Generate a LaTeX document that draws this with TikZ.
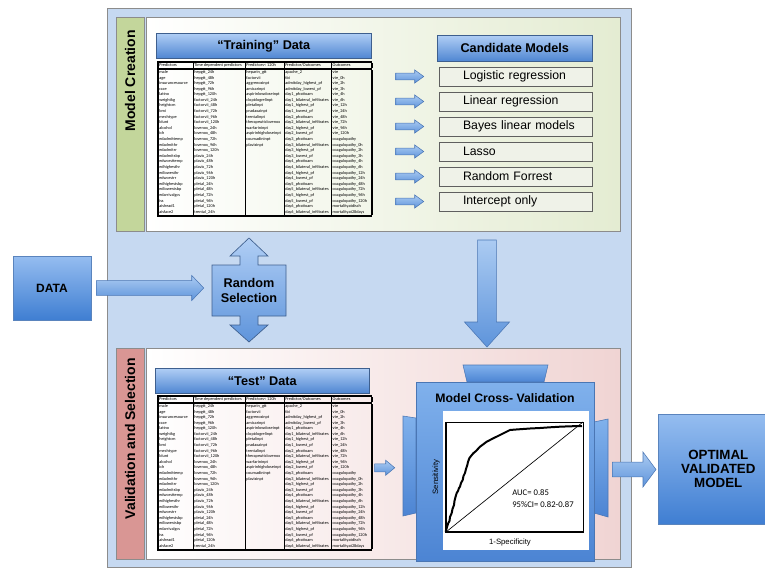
\documentclass[tikz,border=0pt]{standalone}
\usepackage{fontspec}
\setmainfont{Liberation Sans}
\newfontfamily\calibrifont{Carlito}
\usepackage{graphicx}
\usetikzlibrary{calc}

\definecolor{panelblue}{HTML}{C6D9F1}
\definecolor{panelline}{HTML}{8C8C8C}
\definecolor{stripgreen}{HTML}{C3D69B}
\definecolor{tintgreen}{HTML}{E4ECD2}
\definecolor{stripred}{HTML}{D99694}
\definecolor{tintred}{HTML}{F0D4D3}
\definecolor{barlight}{HTML}{B0CEF5}
\definecolor{bardark}{HTML}{4F86D2}
\definecolor{barline}{HTML}{3E5F8E}
\definecolor{boxlight}{HTML}{95BDF0}
\definecolor{boxdark}{HTML}{3F7ED2}
\definecolor{boxline}{HTML}{5A84BD}
\definecolor{arrowlight}{HTML}{ABCBF2}
\definecolor{arrowdark}{HTML}{5E94DB}
\definecolor{arrowline}{HTML}{4A76B4}
\definecolor{modelfill}{HTML}{EFF2E8}
\definecolor{modelline}{HTML}{5F5F5F}
\definecolor{cvlight}{HTML}{80B1EC}
\definecolor{cvdark}{HTML}{4C84D3}

\newcommand\headfont{\bfseries\fontsize{9.5}{11}\selectfont}
\newcommand\modelfont{\fontsize{9.2}{11}\selectfont}
\newcommand\tabfont{\calibrifont\fontsize{3.2}{4.2}\selectfont}

% the data sheet, used twice
\newcommand\datatable{%
  \resizebox*{161.25pt}{116.25pt}{%
    \tabfont
    \setlength\tabcolsep{0.8pt}%
    \setlength\arrayrulewidth{0.3pt}%
    \setlength\doublerulesep{0.7pt}%
    \begin{tabular}{||p{24.5pt}|p{37.2pt}|p{27.3pt}|p{33.7pt}|p{28pt}||}
      \hline\hline
      Predictors & Time dependent predictors & Predictors< 120h & Predictor/Outcomes & Outcomes\\
      \hline\hline
      male & hepgtt\_24h & heparin\_gtt & apache\_2 & vte\\
      age & hepgtt\_48h & factorvii & tbi & vte\_0h\\
      insurancesource & hepgtt\_72h & aggrenoxinpt & admitday\_highest\_pf & vte\_2h\\
      race & hepgtt\_96h & amicarinpt & admitday\_lowest\_pf & vte\_3h\\
      latino & hepgtt\_120h & aspirinlowdoseinpt & day1\_pfratioam & vte\_4h\\
      weightkg & factorvii\_24h & clopidogrelinpt & day1\_bilateral\_infiltrates & vte\_6h\\
      heightcm & factorvii\_48h & pletalinpt & day1\_highest\_pf & vte\_12h\\
      bmi & factorvii\_72h & pradaxainpt & day1\_lowest\_pf & vte\_24h\\
      mechtype & factorvii\_96h & trentalinpt & day2\_pfratioam & vte\_48h\\
      blunt & factorvii\_120h & therapeuticlovenox & day2\_bilateral\_infiltrates & vte\_72h\\
      alcohol & lovenox\_24h & warfarininpt & day2\_highest\_pf & vte\_96h\\
      ich & lovenox\_48h & aspirinhighdoseinpt & day2\_lowest\_pf & vte\_120h\\
      edadmittemp & lovenox\_72h & coumadininpt & day3\_pfratioam & coagulopathy\\
      edadmithr & lovenox\_96h & plavixinpt & day3\_bilateral\_infiltrates & coagulopathy\_0h\\
      edadmitrr & lovenox\_120h & & day3\_highest\_pf & coagulopathy\_2h\\
      edadmitsbp & plavix\_24h & & day3\_lowest\_pf & coagulopathy\_3h\\
      edworsttemp & plavix\_48h & & day4\_pfratioam & coagulopathy\_4h\\
      edhighesthr & plavix\_72h & & day4\_bilateral\_infiltrates & coagulopathy\_6h\\
      edlowesthr & plavix\_96h & & day4\_highest\_pf & coagulopathy\_12h\\
      edworstrr & plavix\_120h & & day4\_lowest\_pf & coagulopathy\_24h\\
      edhighestsbp & pletal\_24h & & day5\_pfratioam & coagulopathy\_48h\\
      edlowestsbp & pletal\_48h & & day5\_bilateral\_infiltrates & coagulopathy\_72h\\
      edarrivalgcs & pletal\_72h & & day5\_highest\_pf & coagulopathy\_96h\\
      iss & pletal\_96h & & day5\_lowest\_pf & coagulopathy\_120h\\
      aishead1 & pletal\_120h & & day6\_pfratioam & mortalityatdisch\\
      aisface2 & trental\_24h & & day6\_bilateral\_infiltrates & mortalityat28days\\
      \hline\hline
    \end{tabular}}}

% block arrows: from, to, shaft half, head half, head length
\newcommand\hblock[5]{%
  \path[blockarrow] let \p1=(#1), \p2=(#2) in
    (\x1,\y1+#3) -- (\x2-#5,\y1+#3) -- (\x2-#5,\y1+#4) -- (\x2,\y1)
    -- (\x2-#5,\y1-#4) -- (\x2-#5,\y1-#3) -- (\x1,\y1-#3) -- cycle;}
\newcommand\vblock[5]{%
  \path[blockarrow] let \p1=(#1), \p2=(#2) in
    (\x1-#3,\y1) -- (\x1-#3,\y2+#5) -- (\x1-#4,\y2+#5) -- (\x1,\y2)
    -- (\x1+#4,\y2+#5) -- (\x1+#3,\y2+#5) -- (\x1+#3,\y1) -- cycle;}

\tikzset{
  outerpanel/.style={fill=panelblue, draw=panelline, line width=0.6pt},
  strip/.style={draw=panelline, line width=0.5pt},
  header/.style={draw=barline, top color=barlight, bottom color=bardark,
    minimum height=18.75pt, font=\headfont, inner sep=0pt, anchor=north west},
  modelbox/.style={draw=modelline, fill=modelfill, text width=114.75pt,
    minimum height=14.6pt, inner xsep=0pt, inner ysep=0pt, align=left,
    font=\modelfont, execute at begin node=\hspace*{18pt}},
  bluebox/.style={draw=boxline, top color=boxlight, bottom color=boxdark,
    align=center, inner sep=0pt},
  blockarrow/.style={draw=arrowline, top color=arrowlight, bottom color=arrowdark,
    line width=0.4pt},
  rsshape/.style={draw=barline, top color=barlight, bottom color=arrowdark,
    line width=0.5pt},
  tabbox/.style={draw=arrowline, top color=cvlight, bottom color=cvdark,
    line width=0.4pt},
  sidelabel/.style={rotate=90, font=\bfseries\fontsize{10.5}{12}\selectfont,
    inner sep=0pt},
  smalltext/.style={font=\fontsize{5.8}{7}\selectfont, inner sep=0pt},
  auctext/.style={font=\calibrifont\fontsize{6.5}{9}\selectfont, align=left,
    inner sep=0pt}
}

\begin{document}
\begin{tikzpicture}[x=0.75pt,y=-0.75pt]
  \useasboundingbox (0,0) rectangle (765,571);

  % panels
  \draw[outerpanel] (107,8) rectangle (631,567);
  \draw[strip, fill=stripgreen] (116,17) rectangle (144,231);
  \draw[strip, left color=white, right color=tintgreen] (146,17) rectangle (620,231);
  \draw[strip, fill=stripred] (116,348) rectangle (144,559);
  \draw[strip, left color=white, right color=tintred] (146,348) rectangle (620,559);
  \node[sidelabel, anchor=east] (mclabel) at (130,30) {Model Creation};
  \node[sidelabel, anchor=east] (vslabel) at (130,358) {Validation and Selection};

  % training data
  \node[header, minimum width=161.25pt] (trainHead) at (156,33) {``Training'' Data};
  \node[inner sep=0pt, anchor=north west] (trainTab) at (157,61) {\datatable};

  % candidate models
  \node[header, minimum width=116.25pt, minimum height=19.5pt] (candHead) at (437,35) {Candidate Models};
  \foreach \name [count=\i] in {Logistic regression, Linear regression,
      Bayes linear models, Lasso, Random Forrest, Intercept only} {
    \node[modelbox] (m\i) at (515.5,{76.5+25*(\i-1)}) {\name};
    \hblock{$(m\i.west)+(-43,0)$}{$(m\i.west)+(-15,0)$}{2.5pt}{4.9pt}{6.75pt}
  }

  % data and random selection
  \node[bluebox, minimum width=58.5pt, minimum height=48pt,
    font=\bfseries\fontsize{9}{11}\selectfont] (data) at (52,288) {DATA};
  \path[rsshape] (212,265) -- ++(28,0) -- ++(0,-9) -- ++(-10,0) -- ++(19,-18)
    -- ++(19,18) -- ++(-10,0) -- ++(0,9) -- ++(28,0) -- ++(0,51) -- ++(-28,0)
    -- ++(0,9) -- ++(10,0) -- ++(-19,17) -- ++(-19,-17) -- ++(10,0) -- ++(0,-9)
    -- ++(-28,0) -- cycle;
  \node[minimum width=55.5pt, minimum height=38.25pt, inner sep=0pt, align=center,
    font=\bfseries\fontsize{9.5}{11.5}\selectfont] (rs) at (249,290.5) {Random\\Selection};
  \hblock{$(data.east)+(5,0)$}{$(rs.west)+(-8,0)$}{5.6pt}{9.4pt}{9pt}

  % down to validation
  \coordinate (mcout) at (487,240);
  \coordinate (cvin) at (487,347);
  \vblock{mcout}{cvin}{7.1pt}{16.9pt}{18.75pt}

  % test data
  \node[header, minimum width=160.5pt] (testHead) at (155,368) {``Test'' Data};
  \node[inner sep=0pt, anchor=north west] (testTab) at (157,395) {\datatable};

  % cross-validation
  \path[tabbox] (463,365) -- (548,365) -- (544,382) -- (467,382) -- cycle;
  \path[tabbox] (403,416) -- (416,418) -- (416,513) -- (403,516) -- cycle;
  \path[tabbox] (594,422) -- (608,419) -- (608,517) -- (594,513) -- cycle;
  \node[draw=arrowline, top color=cvlight, bottom color=cvdark, minimum width=133.5pt,
    minimum height=134.25pt, inner sep=0pt] (cv) at (505,471.5) {};
  \node[font=\bfseries\fontsize{9.2}{11}\selectfont] (cvtitle) at (505,398) {Model Cross- Validation};
  \fill[white] (443,411) rectangle (589,550);
  \draw[line width=0.5pt] (446,422) rectangle (583,532);
  \draw[line width=1.2pt] (446,422) -- (446,532) -- (583,532);
  \draw[line width=0.5pt] (446,532) -- (583,422);
  \draw[line width=1.5pt, line join=round] plot coordinates {
    (445.7,531.7) (447,527) (448.3,523) (449.5,521) (450,517) (451.7,513)
    (452.5,509) (454,505) (454.5,501) (455.5,497) (456.7,493) (458,491)
    (459,488) (460,486.7) (461,483) (462.7,480) (463.5,476) (465,473)
    (466,469) (467.3,465) (468,462) (469.3,458.3) (471,456) (473.3,453.3)
    (476,451) (480,446.7) (483,444.5) (486.7,441.7) (490,440) (493.3,438.3)
    (497,436.5) (500,435) (505,432.5) (510,430) (516,429.5) (523,429)
    (530,428.5) (540,428) (550,427.3) (560,426.7) (570,426.3) (582,426)};
  \node[smalltext, rotate=90] (sens) at (436,477) {Sensitivity};
  \node[smalltext] (spec) at (510,542) {1-Specificity};
  \node[auctext, anchor=west] (auc) at (512,499) {AUC= 0.85\\95\%CI= 0.82-0.87};
  \hblock{$(testTab.east)+(2,-5)$}{$(cv.west)+(-21,0)$}{3pt}{5.6pt}{6.75pt}

  % result
  \node[bluebox, minimum width=90pt, minimum height=82.5pt, anchor=west,
    font=\bfseries\fontsize{10}{10.5}\selectfont] (opt) at (658,469) {OPTIMAL\\VALIDATED\\MODEL};
  \hblock{$(cv.east)+(18,-2)$}{$(opt.west)+(-2,0)$}{5.6pt}{13.1pt}{9.75pt}
\end{tikzpicture}
\end{document}
